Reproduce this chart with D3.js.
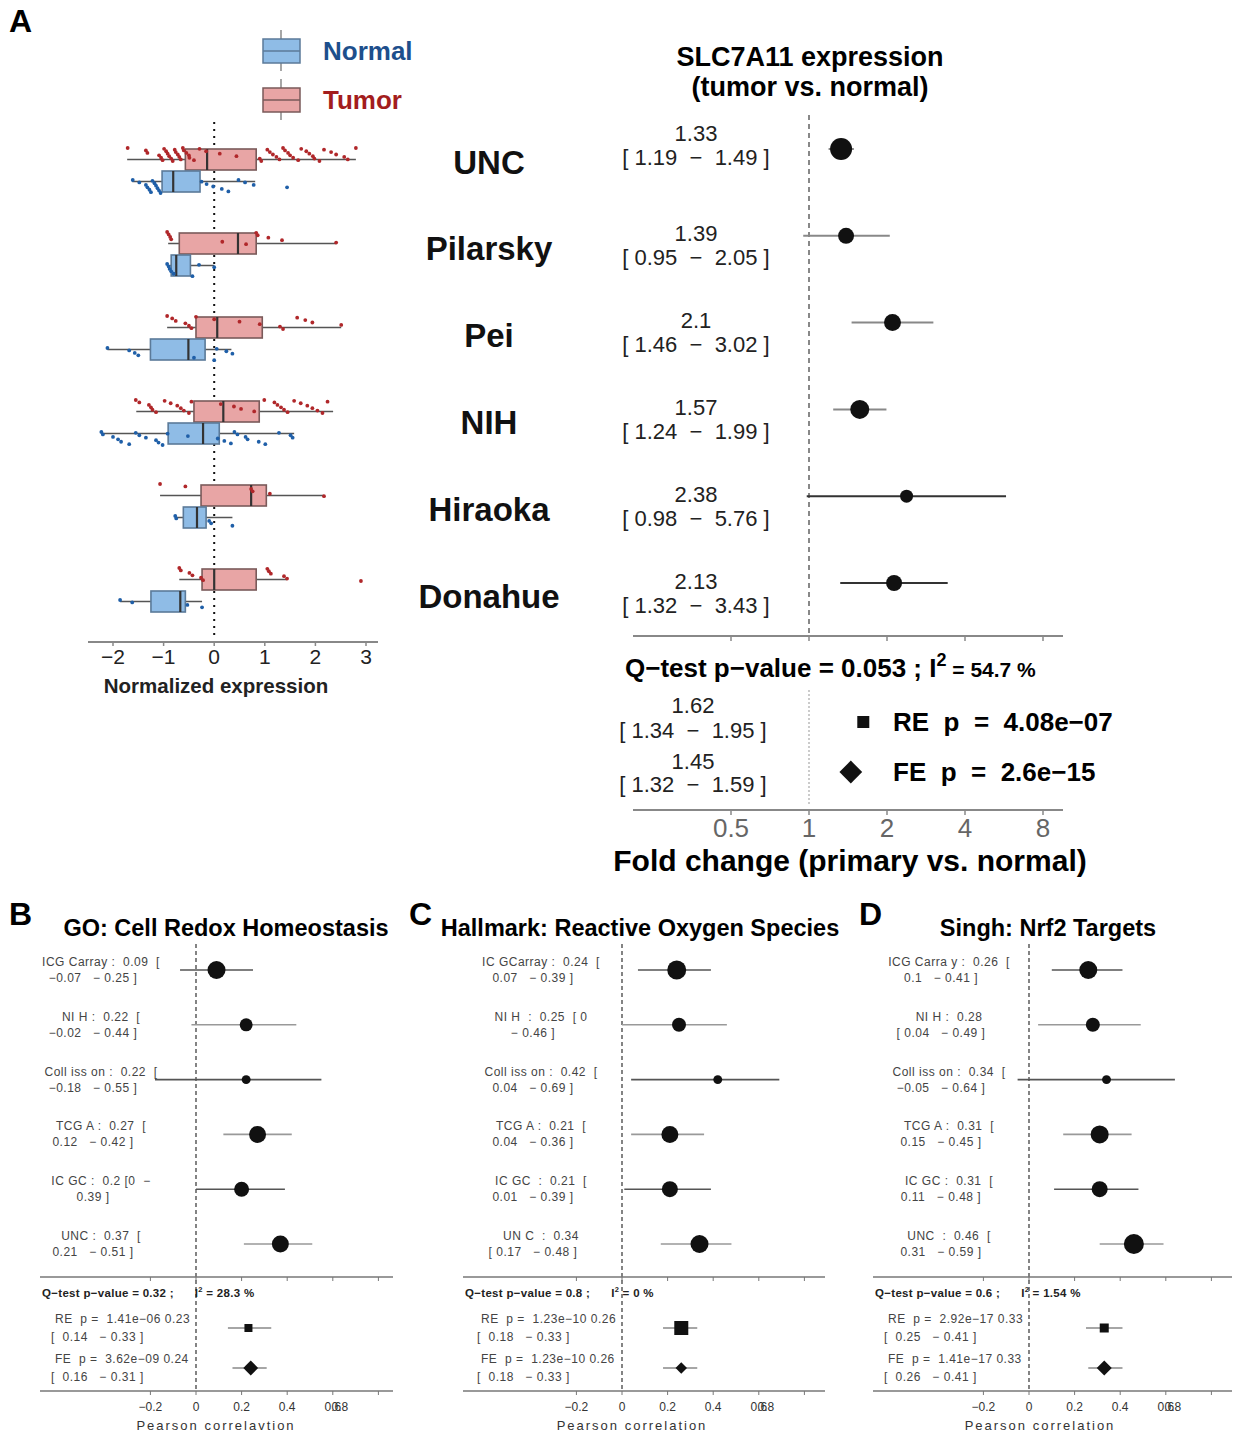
<!DOCTYPE html>
<html>
<head>
<meta charset="utf-8">
<script src="https://cdn.jsdelivr.net/npm/d3@7"></script>
<style>
body { margin: 0; background: #fff; }
text { font-family: "Liberation Sans", Arial, sans-serif; white-space: pre; }
</style>
</head>
<body>
<script>
var W = 1233, H = 1437;

// ---------- panel A data ----------
var datasets = ["UNC", "Pilarsky", "Pei", "NIH", "Hiraoka", "Donahue"];
// [whisker low, q1, median, q3, whisker high]
var tumorBox = [
  [-1.72, -0.57, -0.14, 0.83, 2.80],
  [-0.91, -0.69, 0.47, 0.83, 2.41],
  [-0.93, -0.36, 0.06, 0.95, 2.51],
  [-1.54, -0.40, 0.18, 0.89, 2.35],
  [-1.07, -0.26, 0.73, 1.03, 2.17],
  [-0.69, -0.24, 0.00, 0.83, 1.44]
];
var normalBox = [
  [-1.62, -1.03, -0.81, -0.28, 0.81],
  [-0.87, -0.85, -0.75, -0.47, 0.00],
  [-2.11, -1.26, -0.51, -0.18, 0.34],
  [-2.23, -0.91, -0.22, 0.10, 1.58],
  [-0.77, -0.61, -0.34, -0.16, 0.36],
  [-1.86, -1.25, -0.67, -0.57, -0.24]
];
var tumorPts = [
  [-1.71, -1.35, -1.32, -1.09, -1.05, -1.02, -0.99, -0.95, -0.92, -0.89, -0.85, -0.82, -0.78, -0.76, -0.72, -0.69,
   -0.66, -0.62, -0.6, -0.55, -0.5, -0.49, -0.4, -0.29, -0.16, 0.11, 0.44, 0.9, 0.93, 1.05, 1.1, 1.16, 1.23, 1.29,
   1.36, 1.4, 1.46, 1.5, 1.56, 1.66, 1.72, 1.82, 1.88, 1.95, 1.98, 2.08, 2.17, 2.31, 2.41, 2.57, 2.64, 2.8],
  [-0.93, -0.9, -0.87, -0.85, 0.16, 0.63, 0.83, 0.86, 1.07, 1.34, 2.41],
  [-0.93, -0.83, -0.76, -0.57, -0.5, -0.45, -0.36, 0.0, 0.5, 0.9, 1.3, 1.36, 1.64, 1.8, 1.94, 2.51],
  [-1.55, -1.48, -1.29, -1.25, -1.22, -1.15, -0.98, -0.86, -0.73, -0.66, -0.6, -0.5, -0.45, 0.13, 0.39, 0.53,
   0.79, 0.99, 1.19, 1.25, 1.32, 1.38, 1.45, 1.58, 1.71, 1.84, 1.94, 2.04, 2.14, 2.24],
  [-1.07, -0.57, 0.73, 0.76, 1.1, 2.17],
  [-0.69, -0.66, -0.49, -0.43, -0.26, -0.22, 1.05, 1.08, 1.12, 1.38, 1.44, 2.9]
];
var normalPts = [
  [-1.61, -1.48, -1.35, -1.32, -1.28, -1.25, -1.22, -1.18, -1.15, -1.12, -1.09, -1.06, -0.25, -0.15, -0.02,
   0.15, 0.28, 0.48, 0.61, 0.78, 1.44],
  [-0.93, -0.9, -0.88, -0.85, -0.8, -0.43, -0.3, 0.0],
  [-2.11, -1.68, -1.57, -1.5, -0.4, 0.0, 0.05, 0.24, 0.36],
  [-2.23, -2.2, -2.0, -1.9, -1.84, -1.68, -1.55, -1.48, -1.35, -1.15, -1.1, -1.02, -0.92, -0.52, 0.07, 0.2,
   0.33, 0.4, 0.46, 0.62, 0.66, 0.88, 1.01, 1.28, 1.51, 1.55],
  [-0.77, -0.75, -0.1, -0.06, 0.36],
  [-1.86, -1.62, -0.53, -0.24]
];
var exprTicks = [-2, -1, 0, 1, 2, 3];

var fcEst = [1.33, 1.39, 2.1, 1.57, 2.38, 2.13];
var fcLow = [1.19, 0.95, 1.46, 1.24, 0.98, 1.32];
var fcHigh = [1.49, 2.05, 3.02, 1.99, 5.76, 3.43];
var fcWeight = [121, 64, 72, 90, 42, 64];
var fcTicks = [0.5, 1, 2, 4, 8];
var sumNames = ["RE", "FE"];
var sumEst = [1.62, 1.45];
var sumLow = [1.34, 1.32];
var sumHigh = [1.95, 1.59];
var sumP = ["4.08e\u221207", "2.6e\u221215"];

// ---------- panels B-D data ----------
var corrStudies = ["ICGCarray", "NIH", "Collisson", "TCGA", "ICGC", "UNC"];
var corrTicks = [-0.2, 0, 0.2, 0.4, 0.6, 0.8];
var corrTickLabels = ["\u22120.2", "0", "0.2", "0.4", "0.6", "0.8"];

var redoxEst = [0.09, 0.22, 0.22, 0.27, 0.2, 0.37];
var redoxLow = [-0.07, -0.02, -0.18, 0.12, 0, 0.21];
var redoxHigh = [0.25, 0.44, 0.55, 0.42, 0.39, 0.51];
var redoxWeight = [81, 42, 20, 72, 56, 72];
var redoxLabels = [
  ["ICG Carray :  0.09  [", "\u22120.07   \u2212 0.25 ]"],
  ["NI H :  0.22  [", "\u22120.02   \u2212 0.44 ]"],
  ["Coll iss on :  0.22  [", "\u22120.18   \u2212 0.55 ]"],
  ["TCG A :  0.27  [", "0.12   \u2212 0.42 ]"],
  ["IC GC :  0.2 [0  \u2212", "0.39 ]"],
  ["UNC :  0.37  [", "0.21   \u2212 0.51 ]"]
];
var redoxSum = { est: [0.23, 0.24], low: [0.14, 0.16], high: [0.33, 0.31], p: ["1.41e\u221206", "3.62e\u221209"], w: [64, 70] };

var rosEst = [0.24, 0.25, 0.42, 0.21, 0.21, 0.34];
var rosLow = [0.07, 0, 0.04, 0.04, 0.01, 0.17];
var rosHigh = [0.39, 0.46, 0.69, 0.36, 0.39, 0.48];
var rosWeight = [90, 49, 20, 72, 64, 81];
var rosLabels = [
  ["IC GCarray :  0.24  [", "0.07   \u2212 0.39 ]"],
  ["NI H  :  0.25  [ 0", "\u2212 0.46 ]"],
  ["Coll iss on :  0.42  [", "0.04   \u2212 0.69 ]"],
  ["TCG A :  0.21  [", "0.04   \u2212 0.36 ]"],
  ["IC GC  :  0.21  [", "0.01   \u2212 0.39 ]"],
  ["UN C  :  0.34", "[ 0.17   \u2212 0.48 ]"]
];
var rosSum = { est: [0.26, 0.26], low: [0.18, 0.18], high: [0.33, 0.33], p: ["1.23e\u221210", "1.23e\u221210"], w: [196, 42] };

var nrfEst = [0.26, 0.28, 0.34, 0.31, 0.31, 0.46];
var nrfLow = [0.1, 0.04, -0.05, 0.15, 0.11, 0.31];
var nrfHigh = [0.41, 0.49, 0.64, 0.45, 0.48, 0.59];
var nrfWeight = [81, 49, 20, 81, 64, 100];
var nrfLabels = [
  ["ICG Carra y :  0.26  [", "0.1   \u2212 0.41 ]"],
  ["NI H :  0.28", "[ 0.04   \u2212 0.49 ]"],
  ["Coll iss on :  0.34  [", "\u22120.05   \u2212 0.64 ]"],
  ["TCG A :  0.31  [", "0.15   \u2212 0.45 ]"],
  ["IC GC :  0.31  [", "0.11   \u2212 0.48 ]"],
  ["UNC  :  0.46  [", "0.31   \u2212 0.59 ]"]
];
var nrfSum = { est: [0.33, 0.33], low: [0.25, 0.26], high: [0.41, 0.41], p: ["2.92e\u221217", "1.41e\u221217"], w: [81, 72] };

var panelLetters = ["B", "C", "D"];
var panelTitles = ["GO: Cell Redox Homeostasis", "Hallmark: Reactive Oxygen Species", "Singh: Nrf2 Targets"];
var panelQ = [["0.32", "28.3"], ["0.8", "0"], ["0.6", "1.54"]];
var panelXLabels = ["Pearson correlavtion", "Pearson correlation", "Pearson correlation"];

var svg = d3.select("body").append("svg").attr("width", W).attr("height", H);

// ================= PANEL A : boxplots =================
svg.append("text").attr("x", 9).attr("y", 32).attr("font-size", 32).attr("font-weight", "bold").text("A");

var x = d3.scaleLinear().domain([-2, 3]).range([113, 366]);
var rows = d3.scaleBand().domain(datasets).range([129, 633]);

// legend
var legendItems = [
  { name: "Normal", fill: "#8fbce6", stroke: "#5b7a99", text: "#1d4f8c", y: 51 },
  { name: "Tumor", fill: "#e8a5a5", stroke: "#7a5a5a", text: "#a31d1d", y: 100 }
];
legendItems.forEach(function(d) {
  var lg = svg.append("g");
  lg.append("line").attr("x1", 281).attr("x2", 281).attr("y1", d.y - 21).attr("y2", d.y + 20)
    .attr("stroke", "#777").attr("stroke-width", 1.3);
  lg.append("rect").attr("x", 263).attr("y", d.y - 12).attr("width", 37).attr("height", 24)
    .attr("fill", d.fill).attr("stroke", d.stroke).attr("stroke-width", 1.5);
  lg.append("line").attr("x1", 263).attr("x2", 300).attr("y1", d.y).attr("y2", d.y)
    .attr("stroke", d.stroke).attr("stroke-width", 1.5);
  lg.append("text").attr("x", 323).attr("y", d.y + 9).attr("font-size", 26).attr("font-weight", "bold")
    .attr("fill", d.text).text(d.name);
});

// dotted zero line
svg.append("line").attr("x1", x(0)).attr("x2", x(0)).attr("y1", 122).attr("y2", 640)
  .attr("stroke", "#111").attr("stroke-width", 2).attr("stroke-dasharray", "2,5");

function drawBox(g, s, top, h, fill, stroke) {
  g.append("line").attr("x1", x(s[0])).attr("x2", x(s[4])).attr("y1", top + h / 2).attr("y2", top + h / 2)
    .attr("stroke", "#555").attr("stroke-width", 1.3);
  g.append("rect").attr("x", x(s[1])).attr("y", top).attr("width", x(s[3]) - x(s[1])).attr("height", h)
    .attr("fill", fill).attr("stroke", stroke).attr("stroke-width", 1.6);
  g.append("line").attr("x1", x(s[2])).attr("x2", x(s[2])).attr("y1", top).attr("y2", top + h)
    .attr("stroke", "#333").attr("stroke-width", 2.2);
}

datasets.forEach(function(name, i) {
  var cy = rows(name) + rows.bandwidth() / 2;
  var g = svg.append("g");
  drawBox(g, tumorBox[i], cy - 22, 21, "#e8a5a5", "#7a5a5a");
  drawBox(g, normalBox[i], cy, 21, "#8fbce6", "#5b7a99");
  g.selectAll(".tp").data(tumorPts[i]).enter().append("circle")
    .attr("cx", function(d) { return x(d); })
    .attr("cy", function(d, j) { return cy - 23 + ((j * 37) % 17) / 16 * 13; })
    .attr("r", 1.9).attr("fill", "#b0272a");
  g.selectAll(".np").data(normalPts[i]).enter().append("circle")
    .attr("cx", function(d) { return x(d); })
    .attr("cy", function(d, j) { return cy + 9 + ((j * 37) % 17) / 16 * 13; })
    .attr("r", 1.9).attr("fill", "#1f5fa8");
});

// axis
svg.append("line").attr("x1", 88).attr("x2", 378).attr("y1", 642).attr("y2", 642)
  .attr("stroke", "#888").attr("stroke-width", 2);
svg.selectAll(".etick").data(exprTicks).enter().append("line")
  .attr("x1", function(d) { return x(d); }).attr("x2", function(d) { return x(d); })
  .attr("y1", 642).attr("y2", 646).attr("stroke", "#888").attr("stroke-width", 1.5);
svg.selectAll(".elab").data(exprTicks).enter().append("text")
  .attr("x", function(d) { return x(d); }).attr("y", 664).attr("text-anchor", "middle")
  .attr("font-size", 21).attr("fill", "#222")
  .text(function(d) { return d < 0 ? "\u2212" + Math.abs(d) : d; });
svg.append("text").attr("x", 216).attr("y", 693).attr("text-anchor", "middle")
  .attr("font-size", 20.5).attr("font-weight", "bold").attr("fill", "#222").text("Normalized expression");

// dataset names
var fy = d3.scalePoint().domain(datasets).range([149, 583]);
svg.selectAll(".dname").data(datasets).enter().append("text")
  .attr("x", 489).attr("y", function(d) { return fy(d) + 13; })
  .attr("dominant-baseline", "central").attr("text-anchor", "middle")
  .attr("font-size", 33).attr("font-weight", "bold").attr("fill", "#111")
  .text(function(d) { return d; });

// ================= PANEL A : forest =================
var fx = d3.scaleLog().base(2).domain([0.5, 8]).range([731, 1043]);
var rA = d3.scaleSqrt().domain([0, 121]).range([0, 11]);

svg.append("text").attr("x", 810).attr("y", 66).attr("text-anchor", "middle")
  .attr("font-size", 27).attr("font-weight", "bold").text("SLC7A11 expression");
svg.append("text").attr("x", 810).attr("y", 96).attr("text-anchor", "middle")
  .attr("font-size", 27).attr("font-weight", "bold").text("(tumor vs. normal)");

svg.append("line").attr("x1", fx(1)).attr("x2", fx(1)).attr("y1", 115).attr("y2", 636)
  .attr("stroke", "#888").attr("stroke-width", 2).attr("stroke-dasharray", "5,4");
svg.append("line").attr("x1", fx(1)).attr("x2", fx(1)).attr("y1", 690).attr("y2", 806)
  .attr("stroke", "#bbb").attr("stroke-width", 1.5).attr("stroke-dasharray", "2,2");

[636, 810].forEach(function(yy) {
  svg.append("line").attr("x1", 633).attr("x2", 1063).attr("y1", yy).attr("y2", yy)
    .attr("stroke", "#888").attr("stroke-width", 2);
  svg.selectAll(null).data(fcTicks).enter().append("line")
    .attr("x1", function(d) { return fx(d); }).attr("x2", function(d) { return fx(d); })
    .attr("y1", yy).attr("y2", yy + 5).attr("stroke", "#888").attr("stroke-width", 1.5);
});
svg.selectAll(".flab").data(fcTicks).enter().append("text")
  .attr("x", function(d) { return fx(d); }).attr("y", 837).attr("text-anchor", "middle")
  .attr("font-size", 26).attr("fill", "#666").text(function(d) { return d; });
svg.append("text").attr("x", 850).attr("y", 871).attr("text-anchor", "middle")
  .attr("font-size", 30).attr("font-weight", "bold").text("Fold change (primary vs. normal)");

datasets.forEach(function(name, i) {
  var yy = fy(name);
  var ty = i === 0 ? yy - 14 : yy;
  svg.append("line").attr("x1", fx(fcLow[i])).attr("x2", fx(fcHigh[i])).attr("y1", yy).attr("y2", yy)
    .attr("stroke", i < 4 ? "#888" : "#333").attr("stroke-width", 2);
  svg.append("circle").attr("cx", fx(fcEst[i])).attr("cy", yy).attr("r", rA(fcWeight[i])).attr("fill", "#111");
  svg.append("text").attr("x", 696).attr("y", ty - 2).attr("dominant-baseline", "central")
    .attr("text-anchor", "middle").attr("font-size", 22).attr("fill", "#222").text(fcEst[i]);
  svg.append("text").attr("x", 696).attr("y", ty + 22).attr("dominant-baseline", "central")
    .attr("text-anchor", "middle").attr("font-size", 22).attr("fill", "#222")
    .text("[ " + fcLow[i].toFixed(2) + "  \u2212  " + fcHigh[i].toFixed(2) + " ]");
});

var qA = svg.append("text").attr("x", 625).attr("y", 677).attr("font-weight", "bold").attr("font-size", 26);
qA.append("tspan").text("Q\u2212test p\u2212value = 0.053 ; I");
qA.append("tspan").attr("font-size", 18).attr("dy", -11).text("2");
qA.append("tspan").attr("font-size", 21).attr("dy", 11).text(" = 54.7 %");

var sy = d3.scalePoint().domain(sumNames).range([722, 772]);
sumNames.forEach(function(name, i) {
  var yy = sy(name);
  if (name === "RE") {
    svg.append("rect").attr("x", fx(sumEst[i]) - 6).attr("y", yy - 6).attr("width", 12).attr("height", 12).attr("fill", "#111");
  } else {
    svg.append("path").attr("d", d3.symbol().type(d3.symbolDiamond2).size(330)())
      .attr("transform", "translate(" + fx(sumEst[i]) + "," + yy + ")").attr("fill", "#111");
  }
  svg.append("text").attr("x", 893).attr("y", yy).attr("dominant-baseline", "central")
    .attr("font-size", 26).attr("font-weight", "bold").text(name + "  p  =  " + sumP[i]);
  svg.append("text").attr("x", 693).attr("y", yy - 17 + i * 6).attr("dominant-baseline", "central")
    .attr("text-anchor", "middle").attr("font-size", 22).attr("fill", "#222").text(sumEst[i]);
  svg.append("text").attr("x", 693).attr("y", yy + 8 + i * 4).attr("dominant-baseline", "central")
    .attr("text-anchor", "middle").attr("font-size", 22).attr("fill", "#222")
    .text("[ " + sumLow[i].toFixed(2) + "  \u2212  " + sumHigh[i].toFixed(2) + " ]");
});

// ================= PANELS B-D =================
var panels = [
  { est: redoxEst, low: redoxLow, high: redoxHigh, w: redoxWeight, labels: redoxLabels, sum: redoxSum,
    x0: 196, left: 40, right: 393, labelX: 101, letterX: 9, titleX: 226, xlabX: 216 },
  { est: rosEst, low: rosLow, high: rosHigh, w: rosWeight, labels: rosLabels, sum: rosSum,
    x0: 622, left: 463, right: 825, labelX: 541, letterX: 409, titleX: 640, xlabX: 632 },
  { est: nrfEst, low: nrfLow, high: nrfHigh, w: nrfWeight, labels: nrfLabels, sum: nrfSum,
    x0: 1029, left: 873, right: 1232, labelX: 949, letterX: 859, titleX: 1048, xlabX: 1040 }
];
var cy = d3.scalePoint().domain(corrStudies).range([970, 1244]);
var rC = d3.scaleSqrt().domain([0, 100]).range([0, 10]);

panels.forEach(function(p, k) {
  var g = svg.append("g");
  var cx = d3.scaleLinear().domain([0, 1]).range([p.x0, p.x0 + 228]);

  g.append("text").attr("x", p.letterX).attr("y", 925).attr("font-size", 32).attr("font-weight", "bold").text(panelLetters[k]);
  g.append("text").attr("x", p.titleX).attr("y", 936).attr("text-anchor", "middle")
    .attr("font-size", 23.5).attr("font-weight", "bold").text(panelTitles[k]);

  g.append("line").attr("x1", cx(0)).attr("x2", cx(0)).attr("y1", 944).attr("y2", 1392)
    .attr("stroke", "#333").attr("stroke-width", 1.2).attr("stroke-dasharray", "4,3");

  [1277, 1391].forEach(function(yy) {
    g.append("line").attr("x1", p.left).attr("x2", p.right).attr("y1", yy).attr("y2", yy)
      .attr("stroke", "#777").attr("stroke-width", 1.5);
    g.selectAll(null).data(corrTicks).enter().append("line")
      .attr("x1", function(d) { return cx(d); }).attr("x2", function(d) { return cx(d); })
      .attr("y1", yy).attr("y2", yy + 4).attr("stroke", "#777").attr("stroke-width", 1);
  });
  // the source figure prints the 0.8 label on top of the 0.6 label
  g.selectAll(".clab").data(corrTicks).enter().append("text")
    .attr("x", function(d) { return d === 0.8 ? cx(0.6) + 7 : cx(d); })
    .attr("y", 1411).attr("text-anchor", "middle").attr("font-size", 12).attr("fill", "#333")
    .text(function(d, j) { return corrTickLabels[j]; });
  g.append("text").attr("x", p.xlabX).attr("y", 1430).attr("text-anchor", "middle")
    .attr("font-size", 13).attr("letter-spacing", 2).attr("fill", "#333").text(panelXLabels[k]);

  corrStudies.forEach(function(s, i) {
    var yy = cy(s);
    g.append("line").attr("x1", cx(p.low[i])).attr("x2", cx(p.high[i])).attr("y1", yy).attr("y2", yy)
      .attr("stroke", i % 2 ? "#999" : "#555").attr("stroke-width", 1.6);
    g.append("circle").attr("cx", cx(p.est[i])).attr("cy", yy).attr("r", rC(p.w[i])).attr("fill", "#111");
    g.append("text").attr("x", p.labelX).attr("y", yy - 8).attr("dominant-baseline", "central")
      .attr("text-anchor", "middle").attr("font-size", 12).attr("letter-spacing", 0.5).attr("fill", "#444")
      .text(p.labels[i][0]);
    g.append("text").attr("x", p.labelX - 8).attr("y", yy + 8).attr("dominant-baseline", "central")
      .attr("text-anchor", "middle").attr("font-size", 12).attr("letter-spacing", 0.5).attr("fill", "#444")
      .text(p.labels[i][1]);
  });

  var q = g.append("text").attr("x", p.left + 2).attr("y", 1297).attr("font-size", 11.5).attr("font-weight", "bold")
    .attr("letter-spacing", 0.3).attr("fill", "#222");
  q.append("tspan").text("Q\u2212test p\u2212value = " + panelQ[k][0] + " ;      I");
  q.append("tspan").attr("font-size", 7.5).attr("dy", -5).text("2");
  q.append("tspan").attr("dy", 5).text(" = " + panelQ[k][1] + " %");

  var sumY = d3.scalePoint().domain(sumNames).range([1328, 1368]);
  var rS = d3.scaleSqrt().domain([0, 196]).range([0, 14]);
  sumNames.forEach(function(name, i) {
    var yy = sumY(name);
    var e = p.sum.est[i];
    g.append("line").attr("x1", cx(p.sum.low[i])).attr("x2", cx(p.sum.high[i])).attr("y1", yy).attr("y2", yy)
      .attr("stroke", "#888").attr("stroke-width", 1.6);
    var side = rS(p.sum.w[i]);
    if (name === "RE") {
      g.append("rect").attr("x", cx(e) - side / 2).attr("y", yy - side / 2).attr("width", side).attr("height", side).attr("fill", "#111");
    } else {
      g.append("path").attr("d", d3.symbol().type(d3.symbolDiamond2).size(side * side * 2)())
        .attr("transform", "translate(" + cx(e) + "," + yy + ")").attr("fill", "#111");
    }
    g.append("text").attr("x", p.x0 - 141).attr("y", yy - 9).attr("dominant-baseline", "central")
      .attr("font-size", 12).attr("letter-spacing", 0.5).attr("fill", "#444")
      .text(name + "  p =  " + p.sum.p[i] + " " + e.toFixed(2));
    g.append("text").attr("x", p.x0 - 145).attr("y", yy + 9).attr("dominant-baseline", "central")
      .attr("font-size", 12).attr("letter-spacing", 0.5).attr("fill", "#444")
      .text("[  " + p.sum.low[i].toFixed(2) + "   \u2212 " + p.sum.high[i].toFixed(2) + " ]");
  });
});
</script>
</body>
</html>
